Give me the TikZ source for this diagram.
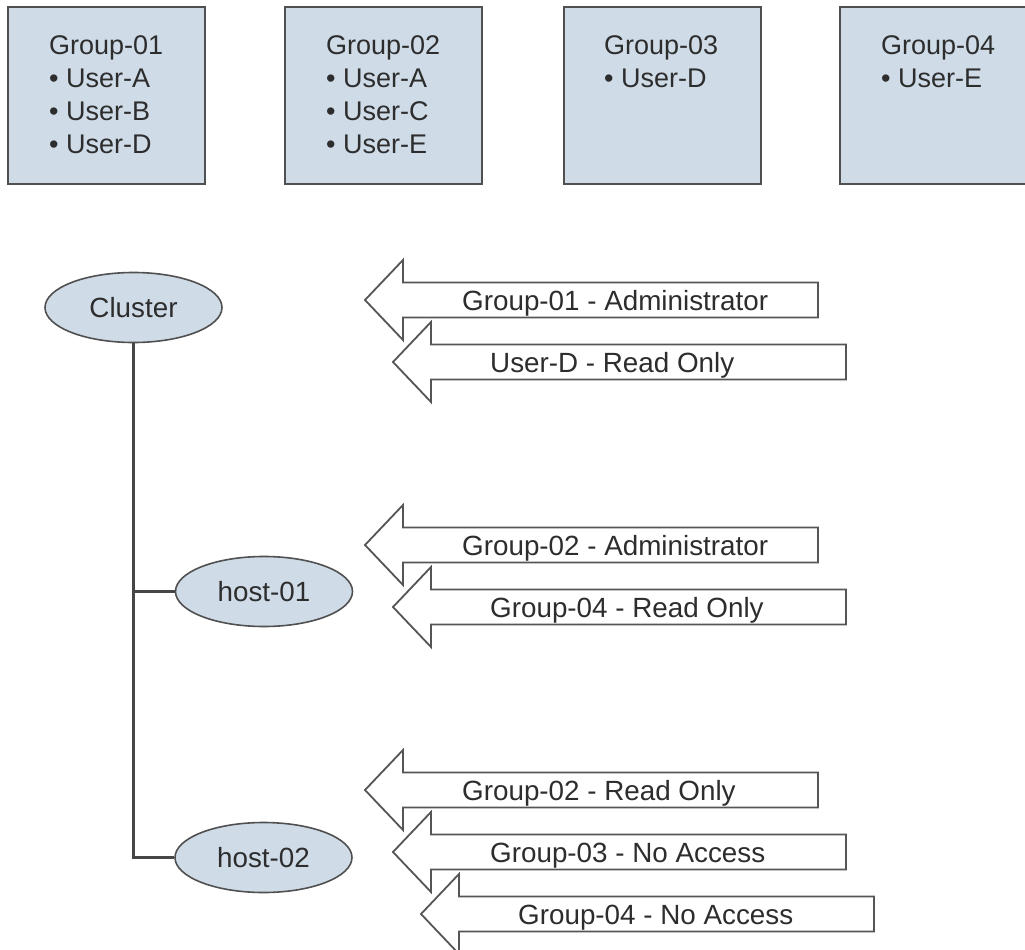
\documentclass[tikz,border=0pt]{standalone}
\usepackage{fontspec}
\setmainfont{Liberation Sans}
\usetikzlibrary{shapes.geometric}
\definecolor{boxfill}{RGB}{207,220,232}
\definecolor{boxline}{RGB}{80,80,80}
\definecolor{txt}{RGB}{45,45,45}
\definecolor{arrline}{RGB}{85,85,85}
\definecolor{treeline}{RGB}{70,70,70}
\tikzset{
  groupbox/.style={draw=boxline, line width=2pt, fill=boxfill, minimum width=197pt, minimum height=176.5pt, inner sep=0pt},
  grouptext/.style={anchor=base west, inner sep=0pt, font=\fontsize{27}{33}\selectfont, text=txt},
  hostell/.style={ellipse, draw=boxline, line width=1.6pt, fill=boxfill, minimum width=177pt, minimum height=70pt, inner sep=0pt, font=\fontsize{27.8}{33}\selectfont, text=txt},
  arrowshape/.style={draw=arrline, line width=1.8pt, fill=white, line join=miter},
  arrowtext/.style={anchor=base west, inner sep=0pt, font=\fontsize{27.8}{33}\selectfont, text=txt},
  tree/.style={draw=treeline, line width=2.6pt}
}
\newcommand\permarrow[4]{%
  \draw[arrowshape] (#1,#2) -- ++(38,-40) -- ++(0,22.5) -- ++(415,0) -- ++(0,35) -- ++(-415,0) -- ++(0,22.5) -- cycle;
  \node[arrowtext] (#3) at ({#1+97},{#2+10}) {#4};
}
\begin{document}
\begin{tikzpicture}[x=1pt,y=-1pt]
\useasboundingbox (0,0) rectangle (1025,950);
\clip (0,0) rectangle (1025,950);
\fill[white] (0,0) rectangle (1025,950);
% group boxes
\node[groupbox] (g1) at (106.5,95.75) {};
\node[groupbox] (g2) at (383.5,95.75) {};
\node[groupbox] (g3) at (662,95.75) {};
\node[groupbox] (g4) at (938.5,95.75) {};
\node[grouptext] (g1t) at (49,55) {\begin{tabular}[t]{@{}l@{}}Group-01\\• User-A\\• User-B\\• User-D\end{tabular}};
\node[grouptext] (g2t) at (326,55) {\begin{tabular}[t]{@{}l@{}}Group-02\\• User-A\\• User-C\\• User-E\end{tabular}};
\node[grouptext] (g3t) at (604,55) {\begin{tabular}[t]{@{}l@{}}Group-03\\• User-D\end{tabular}};
\node[grouptext] (g4t) at (881,55) {\begin{tabular}[t]{@{}l@{}}Group-04\\• User-E\end{tabular}};
% tree
\node[hostell] (cl) at (133.5,307.5) {Cluster};
\node[hostell] (h1) at (264,591.5) {host-01};
\node[hostell] (h2) at (263.5,857.5) {host-02};
\draw[tree] (cl.south) |- (h1.west);
\draw[tree] (cl.south) |- (h2.west);
% permission arrows
\permarrow{365}{300}{a11}{Group-01 - Administrator}
\permarrow{393}{362}{a12}{User-D - Read Only}
\permarrow{365}{545}{a21}{Group-02 - Administrator}
\permarrow{393}{607}{a22}{Group-04 - Read Only}
\permarrow{365}{790}{a31}{Group-02 - Read Only}
\permarrow{393}{852}{a32}{Group-03 - No Access}
\permarrow{421}{914}{a33}{Group-04 - No Access}
\end{tikzpicture}
\end{document}
